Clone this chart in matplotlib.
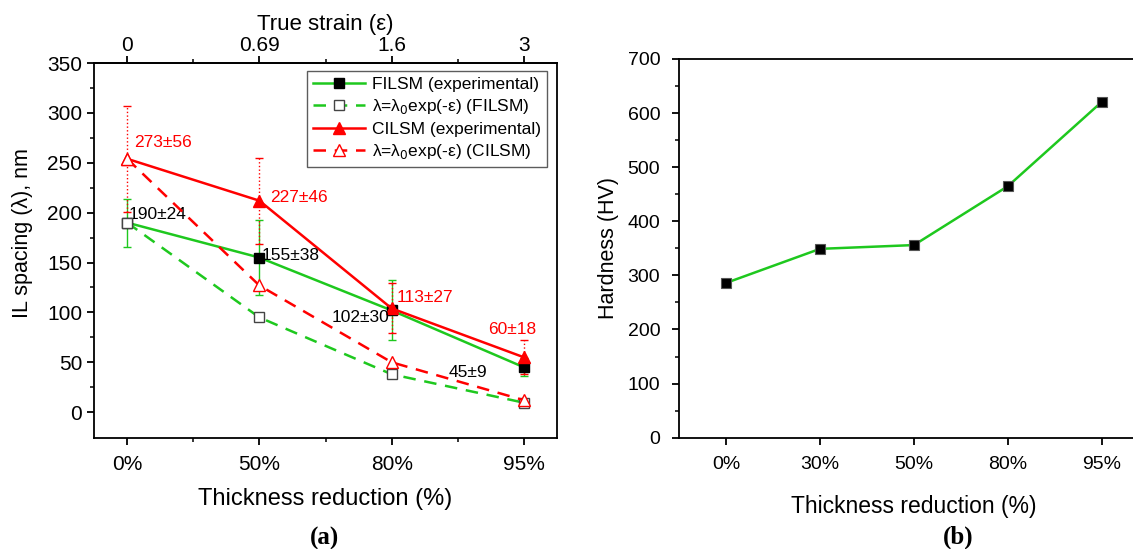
import matplotlib.pyplot as plt

# ---------------- DATA ----------------

reduction_a = ["0%", "50%", "80%", "95%"]
strain_labels = ["0", "0.69", "1.6", "3"]

filsm_exp = [190, 155, 102, 45]
filsm_err = [24, 38, 30, 9]
filsm_model = [190, 95, 38, 9.5]

cilsm_exp = [254, 212, 104, 55]
cilsm_err = [53, 43, 25, 17]
cilsm_model = [254, 127, 50, 12]

# annotation text, anchor (x index, y), alignment
notes_red = ["273±56", "227±46", "113±27", "60±18"]
notes_red_pos = [(0.05, 270), (1.08, 215), (2.04, 115), (2.91, 83)]
notes_red_ha = ["left", "left", "left", "center"]
notes_black = ["190±24", "155±38", "102±30", "45±9"]
notes_black_pos = [(0.01, 198), (1.02, 157), (1.98, 95), (2.72, 40)]
notes_black_ha = ["left", "left", "right", "right"]

reduction_b = ["0%", "30%", "50%", "80%", "95%"]
hardness = [286, 349, 356, 465, 621]

# ------------------------------------------

GREEN = "#1ec81e"
RED = "#ff0000"

plt.rcParams["font.family"] = ["Liberation Sans", "DejaVu Sans"]
plt.rcParams["axes.linewidth"] = 1.3
plt.rcParams["xtick.major.width"] = 1.3
plt.rcParams["ytick.major.width"] = 1.3
plt.rcParams["xtick.minor.width"] = 1.1
plt.rcParams["ytick.minor.width"] = 1.1

fig = plt.figure(figsize=(11.33, 5.49), dpi=100)

# ---------------- panel (a) ----------------
ax1 = fig.add_axes([0.083, 0.202, 0.4086, 0.6832])
x = list(range(len(reduction_a)))

ax1.errorbar(x, filsm_exp, yerr=filsm_err, fmt="none", ecolor=GREEN,
             elinewidth=1.0, capsize=3, capthick=1.0, zorder=2)
eb = ax1.errorbar(x, cilsm_exp, yerr=cilsm_err, fmt="none", ecolor=RED,
                  elinewidth=1.0, capsize=3, capthick=1.0, zorder=2)
eb[2][0].set_linestyle(":")

ax1.plot(x, filsm_exp, color=GREEN, lw=1.8, marker="s", ms=7,
         mfc="black", mec="black", label="FILSM (experimental)", zorder=3)
ax1.plot(x, filsm_model, color=GREEN, lw=1.8, dashes=(5, 3.5), marker="s",
         ms=7, mfc="white", mec="#444444", mew=1.0,
         label=r"λ=λ$_0$exp(-ε) (FILSM)", zorder=4)
ax1.plot(x, cilsm_exp, color=RED, lw=1.8, marker="^", ms=8,
         mfc=RED, mec=RED, label="CILSM (experimental)", zorder=3)
ax1.plot(x, cilsm_model, color=RED, lw=1.8, dashes=(5, 3.5), marker="^",
         ms=8, mfc="white", mec=RED, mew=1.0,
         label=r"λ=λ$_0$exp(-ε) (CILSM)", zorder=4)

for txt, (tx, ty), ha in zip(notes_red, notes_red_pos, notes_red_ha):
    ax1.text(tx, ty, txt, color=RED, fontsize=12.5, ha=ha, va="center")
for txt, (tx, ty), ha in zip(notes_black, notes_black_pos, notes_black_ha):
    ax1.text(tx, ty, txt, color="black", fontsize=12.5, ha=ha, va="center")

ax1.set_xlim(-0.25, 3.25)
ax1.set_ylim(-26, 350)
ax1.set_xticks(x)
ax1.set_xticklabels(reduction_a)
ax1.set_xticks([0.5, 1.5, 2.5], minor=True)
ax1.set_yticks(range(0, 351, 50))
ax1.set_yticks(range(25, 350, 50), minor=True)
ax1.tick_params(axis="both", which="major", labelsize=15, length=5, direction="out")
ax1.tick_params(axis="x", which="major", pad=7)
ax1.tick_params(axis="y", which="major", pad=3.5)
ax1.tick_params(axis="both", which="minor", length=3, direction="out")
ax1.set_xlabel("Thickness reduction (%)", fontsize=17, labelpad=10)
ax1.set_ylabel("IL spacing (λ), nm", fontsize=15.5)
ax1.yaxis.set_label_coords(-0.132, 0.547)

top = ax1.secondary_xaxis("top")
top.set_xticks(x)
top.set_xticklabels(strain_labels)
top.set_xticks([0.5, 1.5, 2.5], minor=True)
top.tick_params(which="major", labelsize=15, length=5, direction="out", pad=1)
top.tick_params(which="minor", length=3, direction="out")
top.set_xlabel("True strain (ε)", fontsize=16, labelpad=4)

leg = ax1.legend(loc="upper right", bbox_to_anchor=(0.978, 0.979),
                 borderaxespad=0, fontsize=12.5,
                 frameon=True, fancybox=False, edgecolor="#333333",
                 handlelength=3.0, handletextpad=0.4, borderpad=0.35,
                 labelspacing=0.3)
leg.get_frame().set_linewidth(1.0)

fig.text(0.286, 0.02, "(a)", fontsize=18, fontweight="bold",
         family="Liberation Serif", ha="center", va="center")

# ---------------- panel (b) ----------------
ax2 = fig.add_axes([0.5993, 0.2027, 0.4148, 0.69])
xb = list(range(len(reduction_b)))
ax2.plot(xb, hardness, color=GREEN, lw=1.8, marker="s", ms=7,
         mfc="black", mec="#555555", mew=0.8)
ax2.set_xlim(-0.5, 4.5)
ax2.set_ylim(0, 700)
ax2.set_xticks(xb)
ax2.set_xticklabels(reduction_b)
ax2.set_yticks(range(0, 701, 100))
ax2.set_yticks(range(50, 700, 100), minor=True)
ax2.tick_params(axis="both", which="major", labelsize=14, length=5, direction="out")
ax2.tick_params(axis="x", which="major", pad=8)
ax2.tick_params(axis="y", which="major", pad=8.5)
ax2.tick_params(axis="both", which="minor", length=3, direction="out")
ax2.spines["right"].set_visible(False)
ax2.set_xlabel("Thickness reduction (%)", fontsize=16.5, labelpad=16)
ax2.set_ylabel("Hardness (HV)", fontsize=15.5, labelpad=6)

fig.text(0.846, 0.022, "(b)", fontsize=18, fontweight="bold",
         family="Liberation Serif", ha="center", va="center")

plt.savefig("out.png", dpi=100)
plt.close()
